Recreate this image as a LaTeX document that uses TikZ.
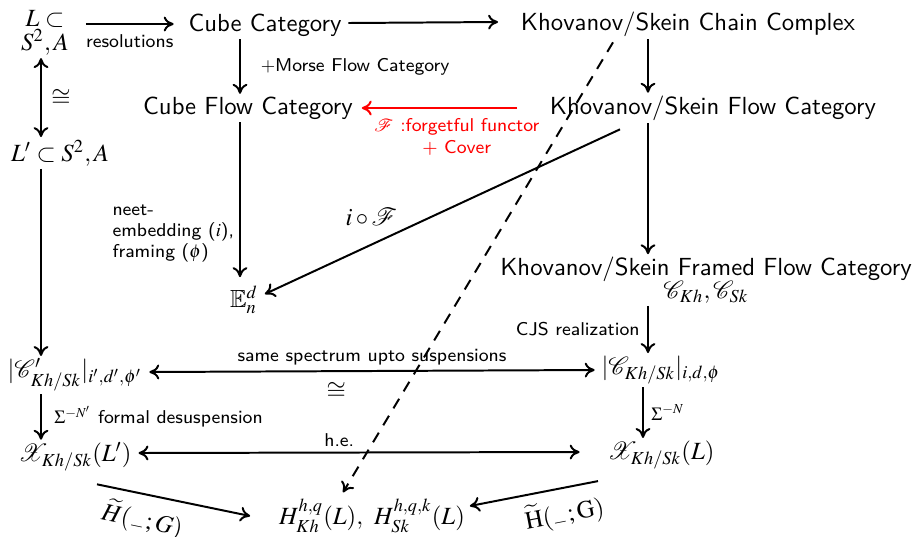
\documentclass[tikz,border=0pt]{standalone}
\usepackage{mathptmx}
\usepackage{amssymb}
\usepackage{mathrsfs}
\usetikzlibrary{arrows.meta,calc}
\begin{document}
\begin{tikzpicture}[x=0.0142cm,y=-0.0142cm,
  main/.style={font=\sffamily, inner sep=1pt},
  lab/.style={font=\sffamily\fontsize{7.5}{8.6}\selectfont, inner sep=1pt},
  arr/.style={thick,-{To[length=4pt,width=6pt]}},
  darr/.style={thick,{To[length=4pt,width=6pt]}-{To[length=4pt,width=6pt]}},
  dsh/.style={thick,dash pattern=on 4.5pt off 3.5pt,-{To[length=4pt,width=6pt]}}]
\useasboundingbox (0,0) rectangle (913,536);
% nodes
\node[main,align=center] (n1) at (45,33) {$L\subset$\\[-2.5pt]$S^2,A$};
\node[main] (cc) at (265,25) {Cube Category};
\node[main] (kc) at (688,24) {Khovanov/Skein Chain Complex};
\node[main] (cf) at (248,108) {Cube Flow Category};
\node[main] (kf) at (713,108) {Khovanov/Skein Flow Category};
\node[main] (l2) at (60,153) {$L'\subset S^2,A$};
\node[main] (E) at (244,300) {$\mathbb{E}^d_n$};
\node[main,align=center] (kff) at (706,280) {Khovanov/Skein Framed Flow Category\\[-3pt]$\mathscr{C}_{Kh},\mathscr{C}_{Sk}$};
\node[main] (cr) at (661,370) {$|\mathscr{C}_{Kh/Sk}|_{i,d,\phi}$};
\node[main] (cl) at (75,375) {$|\mathscr{C}'_{Kh/Sk}|_{i',d',\phi'}$};
\node[main] (xl) at (75,457) {$\mathscr{X}_{Kh/Sk}(L')$};
\node[main] (xr) at (661,455) {$\mathscr{X}_{Kh/Sk}(L)$};
\node[main] (H) at (372,516) {$H^{h,q}_{Kh}(L),\ H^{h,q,k}_{Sk}(L)$};
% columns
\coordinate (cL) at (41,0);
\coordinate (cM) at (240,0);
\coordinate (cR) at (648,0);
\coordinate (cR2) at (643,0);
% arrows
\draw[arr] ($(n1.east |- cc)+(14,-1)$) -- node[lab,below=3pt]{resolutions} ($(cc.west)+(-12,-1)$);
\draw[arr] ($(cc.east)+(4,-2)$) -- ($(kc.west)+(-20,-2)$);
\draw[arr] (cc.south -| cM) -- node[lab,right=7pt]{$+$Morse Flow Category} (cf.north -| cM);
\draw[arr] (kc.south -| cR) -- (kf.north -| cR);
\draw[arr,red] ($(kf.west)+(-30,0)$) -- node[lab,below=3pt,red,align=center,xshift=7pt]{$\mathscr{F}$ :forgetful functor\\+ Cover} ($(cf.east)+(6,0)$);
\draw[darr] (n1.south -| cL) -- node[right=0.5pt]{$\cong$} (l2.north -| cL);
\draw[arr] (l2.south -| cL) -- (cl.north -| cL);
\draw[arr] (cf.south -| cM) -- node[lab,left=1pt,align=left,pos=0.72]{neet-\\embedding ($i$),\\framing ($\phi$)} ($(E.north -| cM)+(0,-6)$);
\draw[arr] ($(kf.south)+(-93,6)$) -- node[above=4pt,pos=0.7]{$i\circ\mathscr{F}$} ($(E.east)+(4,-6)$);
\draw[arr] (kf.south -| cR) -- (kff.north -| cR);
\draw[arr] (kff.south -| cR) -- node[lab,left=2pt]{CJS realization} (cr.north -| cR);
\draw[darr] ($(cl.east)+(4,-3)$) -- node[lab,above=1pt]{same spectrum upto suspensions} node[below=1pt,xshift=-14.5pt]{$\cong$} ($(cr.west)+(-4,0)$);
\draw[arr] (cl.south -| cL) -- node[lab,right=4pt]{$\Sigma^{-N'}$ formal desuspension} (xl.north -| cL);
\draw[arr] (cr.south -| cR2) -- node[lab,right=2pt]{$\Sigma^{-N}$} (xr.north -| cR2);
\draw[darr] ($(xl.east)+(4,-4)$) -- node[lab,above=1pt,xshift=-8pt]{h.e.} ($(xr.west)+(-25,-3)$);
\draw[arr] ($(xl.south)+(22,10)$) -- node[below=0.5pt,sloped,pos=0.33]{$\widetilde{H}({}_{-};G)$} ($(H.west)+(-26,0)$);
\draw[arr] ($(xr.south)+(-63,9)$) -- node[below=0.5pt,sloped,pos=0.3]{$\widetilde{\mathrm{H}}({}_{-};\mathrm{G})$} ($(H.east)+(2,-10)$);
\draw[dsh] ($(kc.south)+(-75,3)$) -- ($(H.north)+(-29,-4)$);
\end{tikzpicture}
\end{document}
